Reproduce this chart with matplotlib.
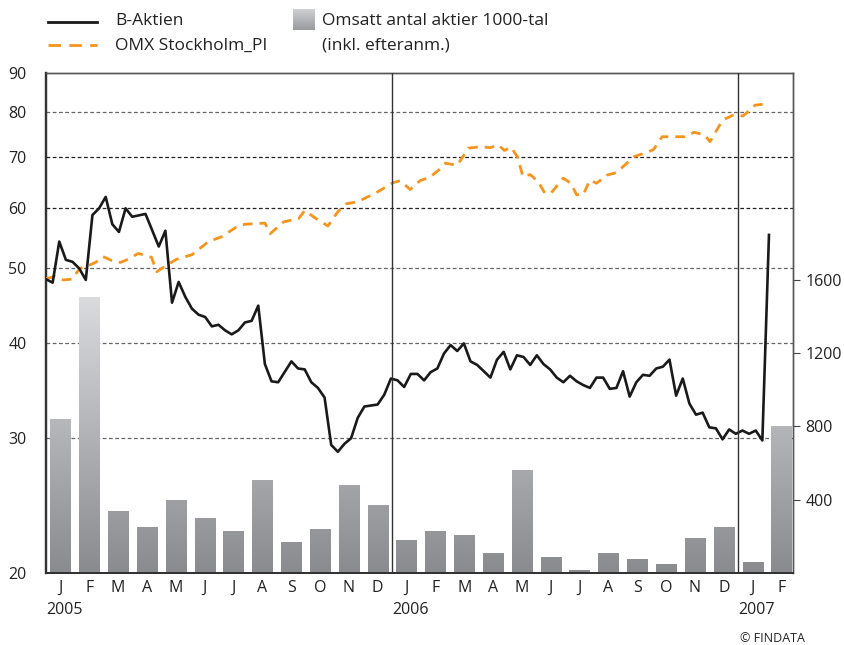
import numpy as np
import matplotlib
matplotlib.use("Agg")
import matplotlib.pyplot as plt
from matplotlib import transforms
from matplotlib.lines import Line2D
from matplotlib.colors import LinearSegmentedColormap
from matplotlib.ticker import FixedLocator, NullLocator, FixedFormatter

plt.rcParams['font.family'] = ['Open Sans', 'DejaVu Sans']

# B-Aktien, weekly closes (week 0 = first week of Jan 2005)
b_weeks = [0, 1, 2, 3, 4, 5, 6, 7, 8, 9, 10, 11, 12, 13, 15, 16, 17, 18, 19, 20,
           21, 22, 23, 24, 25, 26, 27, 28, 29, 30, 31, 32, 33, 34, 35, 37, 38, 39, 40, 41,
           42, 43, 44, 45, 46, 47, 48, 50, 51, 52, 53, 54, 55, 56, 57, 58, 59, 60, 61, 62,
           63, 64, 65, 66, 67, 68, 69, 70, 71, 72, 73, 74, 75, 76, 77, 78, 79, 80, 81, 82,
           83, 84, 85, 86, 87, 88, 89, 90, 91, 92, 93, 94, 95, 96, 97, 98, 99, 100, 101, 102,
           103, 104, 105, 106, 107, 108, 109]
b_price = [48.4, 47.9, 54.2, 51.3, 51.0, 50.0, 48.3, 58.7, 59.9, 62.0, 57.1, 55.8, 59.9, 58.4, 58.9, 56.1, 53.4, 56.0, 45.1, 48.0,
           45.9, 44.3, 43.5, 43.2, 42.0, 42.2, 41.5, 41.0, 41.5, 42.5, 42.7, 44.7, 37.5, 35.6, 35.5, 37.8, 37.0, 36.9, 35.5, 34.9,
           33.9, 29.4, 28.8, 29.5, 30.0, 31.9, 33.0, 33.2, 34.2, 35.9, 35.7, 35.0, 36.4, 36.4, 35.7, 36.6, 37.0, 38.7, 39.7, 39.0,
           39.9, 37.8, 37.4, 36.7, 36.0, 38.0, 38.9, 36.9, 38.5, 38.3, 37.4, 38.5, 37.5, 36.9, 36.0, 35.5, 36.2, 35.6, 35.2, 34.9,
           36.0, 36.0, 34.8, 34.9, 36.7, 34.0, 35.5, 36.3, 36.2, 37.0, 37.2, 38.0, 34.1, 35.9, 33.3, 32.2, 32.4, 31.0, 30.9, 29.9,
           30.8, 30.4, 30.7, 30.4, 30.7, 29.8, 55.3]

# OMX Stockholm_PI (rebased)
omx_weeks = [0, 1.4, 2.6, 3.9, 5.1, 6.4, 7.6, 8.6, 9.9, 11.2, 12.4, 13.9, 15.9, 16.7, 18.2, 19.7, 22.0, 24.5,
             26.5, 28.8, 30.0, 33.0, 33.8, 35.8, 38.1, 39.0, 40.7, 42.5, 44.0, 45.2, 47.0, 49.8, 52.3, 53.4,
             54.9, 56.4, 57.9, 59.2, 60.2, 62.0, 63.7, 65.6, 67.0, 68.2, 69.1, 70.1, 71.1, 71.9, 73.0, 74.2,
             75.2, 76.2, 78.0, 79.1, 80.0, 81.0, 82.0, 83.0, 84.6, 86.0, 88.7, 90.8, 91.6, 92.9, 95.3, 96.2,
             97.7, 99.3, 100.1, 102.0, 103.6, 105.1, 106.9, 109.0]
omx_index = [48.5, 48.8, 48.3, 48.4, 50.0, 50.4, 51.0, 51.8, 51.2, 50.9, 51.4, 52.3, 51.7, 49.5, 50.5, 51.4, 52.1, 54.2,
             55.0, 56.7, 57.1, 57.3, 55.5, 57.5, 58.1, 59.5, 58.1, 56.8, 59.3, 60.7, 61.1, 62.8, 64.7, 65.1,
             63.4, 65.1, 65.8, 67.2, 68.6, 68.2, 71.8, 72.1, 71.9, 72.5, 71.3, 72.0, 69.9, 65.9, 66.3, 64.9,
             62.7, 62.8, 65.6, 64.6, 62.4, 62.4, 65.2, 64.6, 66.2, 66.7, 70.0, 71.0, 71.5, 74.3, 74.3, 74.3,
             75.3, 74.7, 73.2, 78.1, 79.3, 79.1, 81.7, 82.1]

# monthly turnover, 1000-tal
months = ['J', 'F', 'M', 'A', 'M', 'J', 'J', 'A', 'S', 'O', 'N', 'D',
          'J', 'F', 'M', 'A', 'M', 'J', 'J', 'A', 'S', 'O', 'N', 'D',
          'J', 'F']
volume = [840, 1505, 338, 251, 398, 295, 229, 507, 164, 235, 480, 371,
          180, 224, 207, 109, 562, 82, 11, 109, 76, 44, 191, 246,
          55, 802]
years = ['2005', '2006', '2007']

left_ticks = [20, 30, 40, 50, 60, 70, 80, 90]
grid_levels = [30, 40, 50, 60, 70, 80]
right_ticks = [400, 800, 1200, 1600]

WEEK = 12 / 52.18  # weeks -> months on the x axis
TXT = '#222222'
ORANGE = '#f7941d'

fig = plt.figure(figsize=(8.45, 6.45), dpi=100)
ax2 = fig.add_axes([46 / 845, 72 / 645, 747 / 845, 500 / 645])
ax = ax2.twinx()
ax.set_zorder(ax2.get_zorder() + 1)
ax.patch.set_visible(False)

# swap sides: ax (log prices) on the left, ax2 (volume) on the right
ax.yaxis.tick_left()
ax2.yaxis.tick_right()

# bars with vertical gradient
cmap = LinearSegmentedColormap.from_list('g', ['#8a8b8f', '#dcdddf'])
bw = 0.7
for i, v in enumerate(volume):
    x0 = i + 0.5 - bw / 2
    grad = np.linspace(0, v, 200).reshape(-1, 1)
    ax2.imshow(grad, extent=[x0, x0 + bw, 0, v], origin='lower', aspect='auto',
               cmap=cmap, vmin=0, vmax=1550, zorder=2, interpolation='bilinear')

ax2.set_xlim(0, 25.9)
ax2.set_ylim(0, 2730)
ax2.yaxis.set_major_locator(FixedLocator(right_ticks))
ax2.tick_params(axis='y', length=5, width=0.8, color='#444444', pad=4,
                labelsize=11.5, labelcolor=TXT)

# horizontal dashed grid (in price units), behind the bars
blend = transforms.blended_transform_factory(ax2.transAxes, ax.transData)
for g in grid_levels:
    col = '#222222' if g in (60, 70) else '#666666'
    ax2.add_line(Line2D([0, 1], [g, g], transform=blend, color=col, lw=0.9,
                        ls=(0, (3, 2)), zorder=1))

# price lines
ax.set_yscale('log')
ax.set_ylim(20, 90)
ax.plot(np.array(omx_weeks) * WEEK, omx_index, color=ORANGE, lw=2,
        ls=(0, (3.5, 2.5)), zorder=3)
ax.plot(np.array(b_weeks) * WEEK, b_price, color='#1a1a1a', lw=1.9, zorder=4)
ax.yaxis.set_major_locator(FixedLocator(left_ticks))
ax.yaxis.set_major_formatter(FixedFormatter([str(t) for t in left_ticks]))
ax.yaxis.set_minor_locator(NullLocator())
ax.tick_params(axis='y', length=0, pad=14, labelsize=11.5, labelcolor=TXT)

for yr in (12, 24):
    ax.axvline(yr, color='#333333', lw=1, zorder=5)

ax.set_xlim(0, 25.9)
ax2.set_xticks([i + 0.5 for i in range(len(months))])
ax2.set_xticklabels(months)
ax2.tick_params(axis='x', length=0, pad=5, labelsize=11.5, labelcolor=TXT)
ax.tick_params(axis='x', length=0)

for k, yr in enumerate(years):
    ax.annotate(yr, xy=(12 * k, 0), xycoords=('data', 'axes fraction'),
                xytext=(0, -27), textcoords='offset points', ha='left', va='center',
                fontsize=11.5, color=TXT)

for a in (ax, ax2):
    a.spines['left'].set_color('#333333')
    a.spines['left'].set_linewidth(1.6)
    a.spines['bottom'].set_color('#333333')
    a.spines['bottom'].set_linewidth(1.4)
    a.spines['top'].set_color('#555555')
    a.spines['top'].set_linewidth(1)
    a.spines['right'].set_color('#555555')
    a.spines['right'].set_linewidth(1)

# legend
fig.add_artist(Line2D([48 / 845, 97 / 845], [1 - 21.5 / 645, 1 - 21.5 / 645],
                      color='#1a1a1a', lw=2, transform=fig.transFigure))
fig.add_artist(Line2D([48 / 845, 97 / 845], [1 - 45 / 645, 1 - 45 / 645],
                      color=ORANGE, lw=2, ls=(0, (4.5, 3)), transform=fig.transFigure))
fig.text(115 / 845, 1 - 21 / 645, 'B-Aktien', fontsize=12.5, color=TXT, va='center')
fig.text(115 / 845, 1 - 46 / 645, 'OMX Stockholm_PI', fontsize=12.5, color=TXT, va='center')
leg_ax = fig.add_axes([293 / 845, 1 - 30 / 645, 22 / 845, 21 / 645])
leg_ax.imshow(np.linspace(0, 1, 50).reshape(-1, 1), aspect='auto', origin='lower',
              cmap=LinearSegmentedColormap.from_list('l', ['#9a9b9f', '#cfd0d2']))
leg_ax.axis('off')
fig.text(322 / 845, 1 - 21 / 645, 'Omsatt antal aktier 1000-tal', fontsize=12.5,
         color=TXT, va='center')
fig.text(322 / 845, 1 - 46 / 645, '(inkl. efteranm.)', fontsize=12.5, color=TXT, va='center')

fig.text(805 / 845, 1 - 638 / 645, '© FINDATA', fontsize=9, color=TXT, ha='right', va='center')

fig.savefig('out.png', dpi=100)
